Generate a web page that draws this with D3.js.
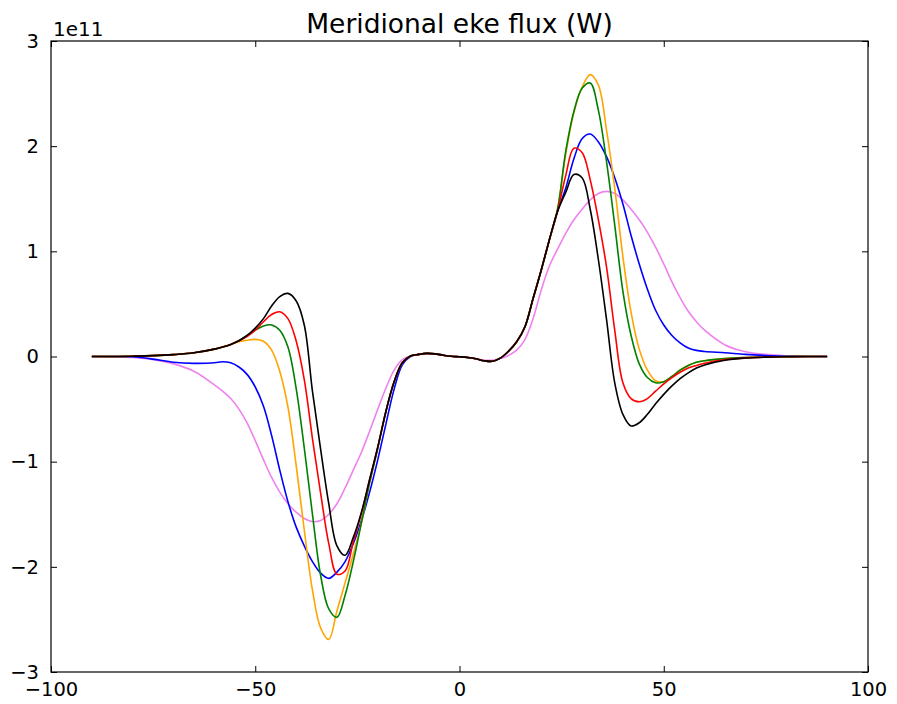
<!DOCTYPE html>
<html>
<head>
<meta charset="utf-8">
<script src="https://cdn.jsdelivr.net/npm/d3@7"></script>
<style>
  html, body { margin: 0; padding: 0; background: #ffffff; }
  svg { display: block; }
  text { font-family: "DejaVu Sans", sans-serif; fill: #000; }
</style>
</head>
<body>
<svg id="chart" width="897" height="704"></svg>
<script>
// ---- data (latitude in degrees, flux in units of 1e11 W) ----
const lat = [-90,-85,-80,-75,-70,-65,
  -60,-58,-56,-54,-52,-50,-48,-46,-44,-42,
  -40,-38,-36,-34,-32,-30,-28,-26,-24,-22,
  -20,-18,-16,-14,-12,-10,-8,-6,-4,-2,
  0,2,4,6,8,10,12,14,16,18,
  20,22,24,26,28,30,32,34,36,38,
  40,42,44,46,48,50,52,54,56,58,
  60,65,70,75,80,85,90];

const seriesBlack = [0,0,0.003,0.008,0.018,0.035,
  0.07,0.09,0.115,0.15,0.20,0.27,0.36,0.48,0.57,0.60,
  0.53,0.30,-0.33,-0.88,-1.40,-1.80,-1.89,-1.72,-1.48,-1.17,
  -0.86,-0.52,-0.24,-0.06,0.005,0.02,0.03,0.025,0.012,0.002,
  -0.003,-0.01,-0.022,-0.04,-0.045,-0.015,0.05,0.14,0.28,0.55,
  0.82,1.11,1.38,1.56,1.73,1.70,1.40,0.92,0.35,-0.25,
  -0.55,-0.66,-0.63,-0.55,-0.45,-0.36,-0.28,-0.21,-0.155,-0.11,
  -0.08,-0.035,-0.015,-0.006,-0.002,0,0];

const seriesRed = [0,0,0.003,0.008,0.018,0.035,
  0.07,0.09,0.115,0.15,0.19,0.25,0.33,0.40,0.425,0.36,
  0.15,-0.22,-0.78,-1.30,-1.78,-2.07,-2.04,-1.76,-1.49,-1.17,
  -0.86,-0.52,-0.24,-0.06,0.005,0.02,0.03,0.025,0.012,0.002,
  -0.003,-0.01,-0.022,-0.04,-0.045,-0.015,0.05,0.14,0.28,0.55,
  0.82,1.11,1.38,1.72,1.98,1.94,1.68,1.30,0.85,0.25,
  -0.25,-0.40,-0.43,-0.40,-0.33,-0.26,-0.20,-0.15,-0.11,-0.085,
  -0.065,-0.03,-0.013,-0.005,-0.002,0,0];

const seriesGreen = [0,0,0.003,0.008,0.018,0.035,
  0.07,0.09,0.115,0.15,0.20,0.25,0.29,0.30,0.25,0.09,
  -0.30,-0.87,-1.50,-2.08,-2.40,-2.48,-2.27,-1.95,-1.58,-1.20,
  -0.87,-0.52,-0.24,-0.06,0.005,0.02,0.03,0.025,0.012,0.002,
  -0.003,-0.01,-0.022,-0.04,-0.045,-0.015,0.05,0.14,0.28,0.55,
  0.82,1.11,1.40,1.95,2.33,2.55,2.60,2.34,1.85,1.25,
  0.62,0.20,-0.07,-0.20,-0.25,-0.24,-0.19,-0.13,-0.085,-0.055,
  -0.04,-0.02,-0.01,-0.004,-0.001,0,0];

const seriesOrange = [0,0,0.003,0.008,0.018,0.035,
  0.07,0.09,0.115,0.14,0.155,0.163,0.145,0.06,-0.14,-0.48,
  -1.03,-1.65,-2.22,-2.58,-2.69,-2.42,-2.15,-1.88,-1.58,-1.20,
  -0.87,-0.52,-0.24,-0.06,0.005,0.02,0.03,0.025,0.012,0.002,
  -0.003,-0.01,-0.022,-0.04,-0.045,-0.015,0.05,0.14,0.28,0.55,
  0.82,1.11,1.40,1.92,2.32,2.56,2.68,2.58,2.15,1.60,
  0.95,0.42,0.07,-0.13,-0.23,-0.24,-0.19,-0.13,-0.085,-0.055,
  -0.04,-0.02,-0.01,-0.004,-0.001,0,0];

const seriesBlue = [0,0,-0.003,-0.025,-0.055,-0.065,
  -0.06,-0.05,-0.06,-0.10,-0.17,-0.29,-0.47,-0.75,-1.08,-1.38,
  -1.62,-1.80,-1.95,-2.06,-2.11,-2.05,-1.95,-1.78,-1.56,-1.29,
  -0.98,-0.64,-0.31,-0.08,0.0,0.02,0.03,0.025,0.012,0.002,
  -0.003,-0.01,-0.022,-0.04,-0.045,-0.015,0.05,0.14,0.28,0.55,
  0.82,1.11,1.38,1.60,1.88,2.07,2.115,2.04,1.90,1.70,
  1.45,1.15,0.88,0.64,0.44,0.30,0.20,0.13,0.08,0.058,
  0.048,0.035,0.02,0.01,0.004,0,0];

const seriesViolet = [0,-0.002,-0.01,-0.03,-0.07,-0.14,
  -0.27,-0.33,-0.40,-0.50,-0.63,-0.80,-0.98,-1.15,-1.29,-1.40,
  -1.48,-1.54,-1.57,-1.56,-1.50,-1.40,-1.25,-1.08,-0.91,-0.71,
  -0.50,-0.30,-0.13,-0.03,0.005,0.02,0.03,0.025,0.012,0.002,
  -0.003,-0.01,-0.022,-0.035,-0.035,-0.02,0.01,0.06,0.16,0.36,
  0.63,0.86,1.02,1.17,1.30,1.40,1.49,1.55,1.57,1.55,
  1.49,1.40,1.30,1.18,1.04,0.88,0.71,0.56,0.43,0.33,
  0.25,0.11,0.045,0.02,0.006,0,0];

const seriesNames = ["violet","blue","orange","green","red","black"];
const seriesColors = ["#ee82ee","#0000ff","#ffa500","#008000","#ff0000","#000000"];
const seriesValues = [seriesViolet, seriesBlue, seriesOrange, seriesGreen, seriesRed, seriesBlack];

const xTicks = [-100,-50,0,50,100];
const yTicks = [-3,-2,-1,0,1,2,3];
const titleText = "Meridional eke flux (W)";
const offsetText = "1e11";

// ---- layout ----
const svg = d3.select("#chart");
const L = 51, R = 868, T = 41, B = 672;
const x = d3.scaleLinear().domain([-100, 100]).range([L, R]);
const y = d3.scaleLinear().domain([-3, 3]).range([B, T]);
const fmt = d => (d < 0 ? "\u2212" + Math.abs(d) : String(d));

// lines
const line = d3.line()
  .x((d, i) => x(lat[i]))
  .y(d => y(d))
  .curve(d3.curveCatmullRom.alpha(0.5));

svg.append("g").selectAll("path")
  .data(seriesValues)
  .join("path")
  .attr("d", d => line(d))
  .attr("fill", "none")
  .attr("stroke", (d, i) => seriesColors[i])
  .attr("stroke-width", 1.6)
  .attr("stroke-linejoin", "round");

// frame
svg.append("rect")
  .attr("x", L).attr("y", T)
  .attr("width", R - L).attr("height", B - T)
  .attr("fill", "none").attr("stroke", "#000").attr("stroke-width", 1.2);

const tickLen = 6;
const axB = d3.axisBottom(x).tickValues(xTicks).tickFormat(fmt).tickSizeInner(-tickLen).tickSizeOuter(0).tickPadding(tickLen + 4);
const axT = d3.axisTop(x).tickValues(xTicks).tickFormat("").tickSizeInner(-tickLen).tickSizeOuter(0);
const axL = d3.axisLeft(y).tickValues(yTicks).tickFormat(fmt).tickSizeInner(-tickLen).tickSizeOuter(0).tickPadding(tickLen + 6);
const axR = d3.axisRight(y).tickValues(yTicks).tickFormat("").tickSizeInner(-tickLen).tickSizeOuter(0);

function style(g) {
  g.select(".domain").remove();
  g.selectAll(".tick line").attr("stroke", "#000").attr("stroke-width", 1);
  g.selectAll(".tick text").attr("font-family", "DejaVu Sans").attr("font-size", 19.5).attr("fill", "#000");
}
svg.append("g").attr("transform", `translate(0,${B})`).call(axB).call(style);
svg.append("g").attr("transform", `translate(0,${T})`).call(axT).call(style);
svg.append("g").attr("transform", `translate(${L},0)`).call(axL).call(style);
svg.append("g").attr("transform", `translate(${R},0)`).call(axR).call(style);

// title and offset
svg.append("text")
  .attr("x", (L + R) / 2).attr("y", 33)
  .attr("text-anchor", "middle")
  .attr("font-size", 26.5)
  .text(titleText);

svg.append("text")
  .attr("x", L + 2).attr("y", 36)
  .attr("font-size", 20)
  .text(offsetText);
</script>
</body>
</html>
